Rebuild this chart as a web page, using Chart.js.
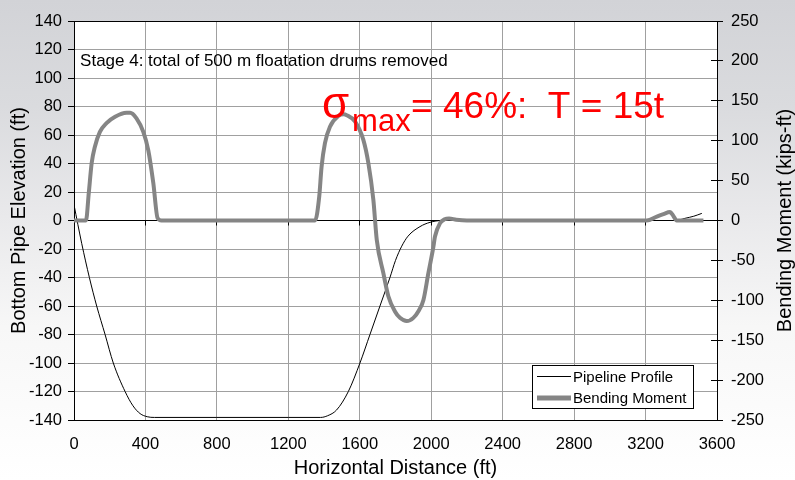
<!DOCTYPE html>
<html>
<head>
<meta charset="utf-8">
<script src="https://cdn.jsdelivr.net/npm/chart.js@4.4.0/dist/chart.umd.min.js"></script>
<style>
  html, body { margin: 0; padding: 0; }
  body {
    width: 795px; height: 480px; overflow: hidden;
    background: linear-gradient(to bottom, #d2d3d7 0%, #dadbde 22%, #e9e9eb 45%, #f7f7f7 68%, #ffffff 100%);
  }
  canvas { display: block; }
</style>
</head>
<body>
<canvas id="c" width="795" height="480"></canvas>
<script>
// Pipeline profile: horizontal distance (ft) and bottom pipe elevation (ft)
const profileDistance = [0, 43, 86, 127, 174, 220, 286, 330, 370, 410,
  450, 800, 1200, 1380, 1420, 1470, 1536, 1601, 1657, 1713,
  1769, 1800, 1835, 1870, 1937, 1993, 2060, 2400, 2800, 3200,
  3370, 3420, 3470, 3515];
const profileElevation = [11, -16, -40, -60, -80, -100, -120, -130, -135.5, -137.7,
  -138.2, -138.2, -138.2, -138.2, -137, -133, -120, -100, -80, -60,
  -40, -28, -18, -11, -4.3, -1.3, 0, 0, 0, 0,
  0, 1.5, 3, 5];

// Bending moment along the pipe: distance (ft) and moment (kips-ft)
const momentDistance = [0, 67, 83, 99, 117, 145, 182, 230, 294, 314,
  350, 388, 416, 444, 468, 490, 1000, 1350, 1373, 1386,
  1405, 1433, 1480, 1510, 1527, 1574, 1620, 1648, 1676, 1695,
  1732, 1760, 1797, 1825, 1863, 1900, 1930, 1956, 1984, 2012,
  2021, 2049, 2075, 2100, 2140, 2200, 2800, 3207, 3263, 3300,
  3337, 3355, 3374, 3524];
const bendingMoment = [0, 0, 35, 72, 92.5, 111, 122, 130, 135, 135,
  128, 111, 88, 47, 3, 0, 0, 0, 30, 67,
  97, 117.5, 131, 133, 132, 124, 101, 72, 26, -24,
  -66, -95, -114, -122, -126, -122, -113, -100, -66, -33,
  -20, -3.5, 1.5, 2.5, 1, 0, 0, 0, 5, 8,
  10.5, 6, 0, 0];

// Axis tick values
const distanceTicks = [0, 400, 800, 1200, 1600, 2000, 2400, 2800, 3200, 3600];
const elevationTicks = [-140, -120, -100, -80, -60, -40, -20, 0, 20, 40, 60, 80, 100, 120, 140];
const momentTicks = [-250, -200, -150, -100, -50, 0, 50, 100, 150, 200, 250];

const FONT = '"Liberation Sans", Arial, Helvetica, sans-serif';
Chart.defaults.font.family = FONT;
Chart.defaults.color = '#000';

const align = p => Math.round(p - 0.5) + 0.5;

const decorations = {
  id: 'decorations',
  beforeDraw(chart) {
    const { ctx, chartArea: a } = chart;
    ctx.save();
    ctx.fillStyle = '#ffffff';
    ctx.fillRect(a.left, a.top, a.right - a.left, a.bottom - a.top);
    ctx.restore();
  },
  beforeDatasetsDraw(chart) {
    const { ctx, chartArea: a, scales: { x, y, y2 } } = chart;
    ctx.save();
    ctx.strokeStyle = '#000';
    ctx.lineWidth = 1;
    ctx.beginPath();
    // tick marks hanging below the zero line
    const y0 = align(y.getPixelForValue(0));
    distanceTicks.forEach(v => {
      if (v > x.min && v < x.max) {
        const px = align(x.getPixelForValue(v));
        ctx.moveTo(px, y0);
        ctx.lineTo(px, y0 + 5);
      }
    });
    // inner half of the right axis tick marks
    momentTicks.forEach(v => {
      const py = align(y2.getPixelForValue(v));
      ctx.moveTo(a.right - 6, py);
      ctx.lineTo(a.right, py);
    });
    ctx.stroke();
    ctx.restore();
  },
  afterDatasetsDraw(chart) {
    const { ctx, chartArea: a, scales: { x, y } } = chart;
    ctx.save();

    // stage note
    ctx.fillStyle = '#000';
    ctx.font = '17px ' + FONT;
    ctx.textBaseline = 'alphabetic';
    ctx.textAlign = 'left';
    ctx.fillText('Stage 4: total of 500 m floatation drums removed',
      x.getPixelForValue(34), y.getPixelForValue(108.5));

    // maximum stress note
    const sx = x.getPixelForValue(1389);
    const sy = y.getPixelForValue(72);
    ctx.fillStyle = '#ff0000';
    ctx.font = '44px ' + FONT;
    ctx.fillText('σ', sx, sy);
    ctx.font = '31px ' + FONT;
    ctx.fillText('max', sx + 30, sy + 13.5);
    ctx.font = '37px ' + FONT;
    ctx.fillText('= 46%:  T = 15t', sx + 89, sy);

    // legend
    const ds = chart.data.datasets;
    const w = 161, h = 43;
    const lx = a.right - 185, ly = a.bottom - 55;
    ctx.fillStyle = '#ffffff';
    ctx.fillRect(lx, ly, w, h);
    ctx.strokeStyle = '#000';
    ctx.lineWidth = 1;
    ctx.strokeRect(align(lx), align(ly), w, h);
    ctx.font = '15px ' + FONT;
    ctx.textBaseline = 'middle';
    ds.forEach((d, i) => {
      const ry = ly + 11.5 + i * 21.5;
      ctx.strokeStyle = d.borderColor;
      ctx.lineWidth = d.borderWidth + (i === 1 ? 1 : 0);
      ctx.beginPath();
      ctx.moveTo(lx + 5, ry);
      ctx.lineTo(lx + 39, ry);
      ctx.stroke();
      ctx.fillStyle = '#000';
      ctx.fillText(d.label, lx + 41, ry + 1);
    });
    ctx.restore();
  },
  afterDraw(chart) {
    // right axis title, reading bottom-to-top like the left one
    const { ctx, chartArea: a } = chart;
    ctx.save();
    ctx.translate(chart.width - 10, (a.top + a.bottom) / 2);
    ctx.rotate(-Math.PI / 2);
    ctx.fillStyle = '#000';
    ctx.font = '20px ' + FONT;
    ctx.textAlign = 'center';
    ctx.textBaseline = 'middle';
    ctx.fillText('Bending Moment (kips-ft)', 0, 0);
    ctx.restore();
  }
};

const tickLabel = v => String(v);

new Chart(document.getElementById('c'), {
  type: 'line',
  data: {
    datasets: [
      {
        label: 'Pipeline Profile',
        data: profileDistance.map((d, i) => ({ x: d, y: profileElevation[i] })),
        yAxisID: 'y',
        borderColor: '#000000',
        borderWidth: 1,
        pointRadius: 0,
        cubicInterpolationMode: 'monotone',
        order: 1
      },
      {
        label: 'Bending Moment',
        data: momentDistance.map((d, i) => ({ x: d, y: bendingMoment[i] })),
        yAxisID: 'y2',
        borderColor: '#858585',
        borderWidth: 4,
        pointRadius: 0,
        cubicInterpolationMode: 'monotone',
        order: 0
      }
    ]
  },
  options: {
    responsive: false,
    animation: false,
    devicePixelRatio: 1,
    layout: { padding: { top: 21, left: 0, right: 0, bottom: 0 } },
    plugins: { legend: { display: false }, tooltip: { enabled: false } },
    scales: {
      x: {
        type: 'linear',
        min: 0, max: 3600,
        afterBuildTicks: s => { s.ticks = distanceTicks.map(v => ({ value: v })); },
        afterFit: s => { s.height = 60; },
        ticks: { font: { size: 16.5 }, padding: 15, maxRotation: 0, autoSkip: false, callback: tickLabel },
        grid: { color: '#a0a0a0', lineWidth: 1, drawTicks: false },
        border: { color: '#000', width: 1 },
        title: { display: true, text: 'Horizontal Distance (ft)', font: { size: 20 }, padding: { top: 0, bottom: 0 } }
      },
      y: {
        type: 'linear',
        position: 'left',
        min: -140, max: 140,
        afterBuildTicks: s => { s.ticks = elevationTicks.map(v => ({ value: v })); },
        afterFit: s => { s.width = 74; },
        ticks: { font: { size: 16.5 }, padding: 6, autoSkip: false, callback: tickLabel },
        grid: {
          color: c => (c.tick && (c.tick.value === 0 || c.tick.value === 140)) ? '#000' : '#a0a0a0',
          lineWidth: 1, tickColor: '#000', tickLength: 6
        },
        border: { color: '#000', width: 1 },
        title: { display: true, text: 'Bottom Pipe Elevation (ft)', font: { size: 20 }, padding: { top: 7, bottom: 0 } }
      },
      y2: {
        type: 'linear',
        position: 'right',
        min: -250, max: 250,
        afterBuildTicks: s => { s.ticks = momentTicks.map(v => ({ value: v })); },
        afterFit: s => { s.width = 78; },
        ticks: { font: { size: 16.5 }, padding: 8, autoSkip: false, callback: tickLabel },
        grid: { drawOnChartArea: false, tickColor: '#000', tickLength: 6 },
        border: { color: '#000', width: 1 },
        title: { display: false }
      }
    }
  },
  plugins: [decorations]
});
</script>
</body>
</html>
